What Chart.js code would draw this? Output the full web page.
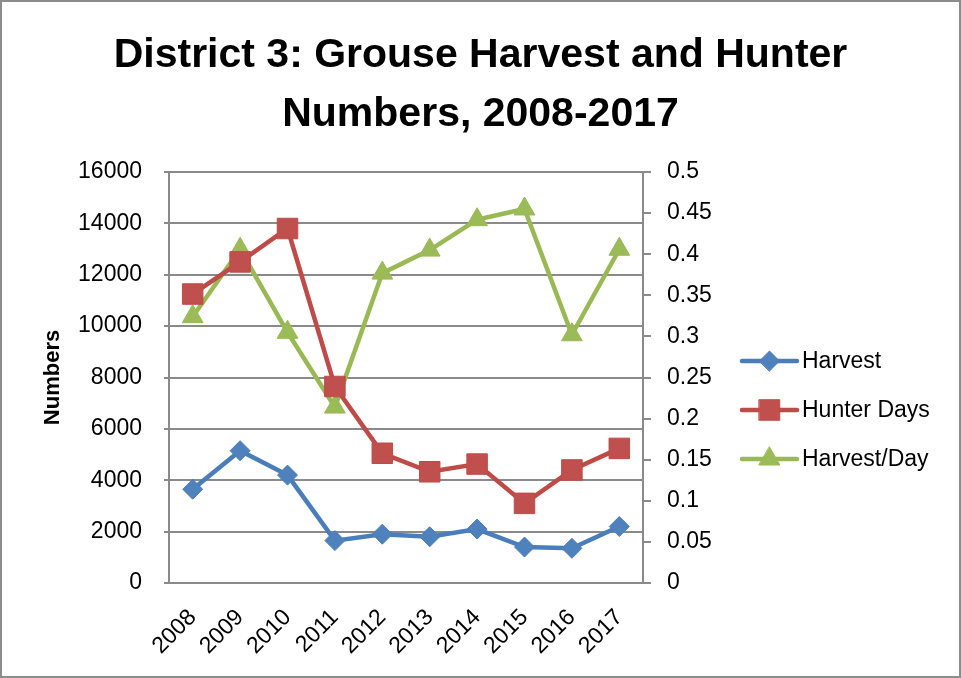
<!DOCTYPE html>
<html>
<head>
<meta charset="utf-8">
<title>District 3: Grouse Harvest and Hunter Numbers, 2008-2017</title>
<script src="https://cdn.jsdelivr.net/npm/chart.js"></script>
<style>
  html, body { margin: 0; padding: 0; background: #fff; }
  #wrap { width: 961px; height: 678px; box-sizing: border-box; border: 2px solid #8c8c8c; }
  canvas { display: block; }
</style>
</head>
<body>
<div id="wrap"><canvas id="chart" width="957" height="674"></canvas></div>
<script>
// data
const years = ['2008', '2009', '2010', '2011', '2012', '2013', '2014', '2015', '2016', '2017']
const harvest = [3650, 5150, 4200, 1650, 1900, 1800, 2100, 1400, 1350, 2200]
const hunterDays = [11250, 12500, 13800, 7650, 5050, 4330, 4630, 3100, 4400, 5240]
const harvestPerDay = [0.324, 0.406, 0.305, 0.214, 0.377, 0.405, 0.442, 0.455, 0.302, 0.406]

const numberTicks = [0, 2000, 4000, 6000, 8000, 10000, 12000, 14000, 16000]
const ratioTicks = [0, 0.05, 0.1, 0.15, 0.2, 0.25, 0.3, 0.35, 0.4, 0.45, 0.5]

const FONT = "'Liberation Sans', Arial, sans-serif"
const GRID = '#8a8a8a'

// legend drawn by hand: line with marker, next to the plot
const legendPlugin = {
  id: 'sideLegend',
  afterDraw (chart) {
    const ctx = chart.ctx
    const x0 = 740
    const x1 = 795
    const rows = [359, 408, 457]
    chart.data.datasets.forEach((ds, i) => {
      const y = rows[i]
      ctx.save()
      ctx.strokeStyle = ds.borderColor
      ctx.lineWidth = ds.borderWidth
      ctx.lineCap = 'round'
      ctx.beginPath()
      ctx.moveTo(x0, y)
      ctx.lineTo(x1, y)
      ctx.stroke()
      ctx.fillStyle = ds.pointBackgroundColor
      ctx.strokeStyle = ds.pointBorderColor
      ctx.lineWidth = 1
      Chart.helpers.drawPoint(ctx, { pointStyle: ds.pointStyle, radius: ds.pointRadius, rotation: 0, borderWidth: 1 }, (x0 + x1) / 2, y)
      ctx.fillStyle = '#000'
      ctx.font = '23px ' + FONT
      ctx.textBaseline = 'middle'
      ctx.textAlign = 'left'
      ctx.fillText(ds.label, x1 + 5, y + 1)
      ctx.restore()
    })
  }
}

const ctx = document.getElementById('chart').getContext('2d')
const chart = new Chart(ctx, {
  type: 'line',
  data: {
    labels: years,
    datasets: [
      {
        label: 'Harvest',
        data: harvest,
        yAxisID: 'y',
        borderColor: '#4A7EBB',
        borderWidth: 4.5,
        pointStyle: 'rectRot',
        pointRadius: 10,
        pointBackgroundColor: '#4F81BD',
        pointBorderColor: '#4A7EBB',
        pointBorderWidth: 1
      },
      {
        label: 'Hunter Days',
        data: hunterDays,
        yAxisID: 'y',
        borderColor: '#BE4B48',
        borderWidth: 4.5,
        pointStyle: 'rect',
        pointRadius: 14.5,
        pointBackgroundColor: '#C0504D',
        pointBorderColor: '#BE4B48',
        pointBorderWidth: 1
      },
      {
        label: 'Harvest/Day',
        data: harvestPerDay,
        yAxisID: 'y1',
        borderColor: '#98B954',
        borderWidth: 4.5,
        pointStyle: 'triangle',
        pointRadius: 12,
        pointBackgroundColor: '#9BBB59',
        pointBorderColor: '#98B954',
        pointBorderWidth: 1
      }
    ]
  },
  options: {
    responsive: false,
    animation: false,
    layout: { padding: 0 },
    plugins: {
      legend: { display: false },
      tooltip: { enabled: false },
      title: {
        display: true,
        text: ['District 3: Grouse Harvest and Hunter', 'Numbers, 2008-2017'],
        color: '#000',
        font: { family: FONT, size: 41, weight: 'bold', lineHeight: 59 / 41 },
        padding: { top: 24, bottom: 28 }
      }
    },
    scales: {
      x: {
        offset: true,
        grid: { display: false, drawTicks: false },
        border: { display: true, color: GRID, width: 2 },
        ticks: {
          color: '#000',
          font: { family: FONT, size: 23 },
          minRotation: 45,
          maxRotation: 45,
          autoSkip: false,
          padding: 21
        },
        afterFit (scale) { scale.height = 93 }
      },
      y: {
        position: 'left',
        min: 0,
        max: 16000,
        afterBuildTicks (scale) { scale.ticks = numberTicks.map(v => ({ value: v })) },
        grid: { color: GRID, lineWidth: 2, tickLength: 5 },
        border: { color: GRID, width: 2 },
        ticks: {
          color: '#000',
          font: { family: FONT, size: 23 },
          padding: 22,
          callback: v => String(v)
        },
        title: {
          display: true,
          text: 'Numbers',
          color: '#000',
          font: { family: FONT, size: 22, weight: 'bold' },
          padding: { top: 38, bottom: 0 }
        },
        afterFit (scale) { scale.width = 167 }
      },
      y1: {
        position: 'right',
        min: 0,
        max: 0.5,
        afterBuildTicks (scale) { scale.ticks = ratioTicks.map(v => ({ value: v })) },
        grid: { drawOnChartArea: false, color: GRID, lineWidth: 2, tickLength: 8 },
        border: { color: GRID, width: 2 },
        ticks: {
          color: '#000',
          font: { family: FONT, size: 23 },
          padding: 16,
          callback: v => String(v)
        },
        afterFit (scale) { scale.width = 316 }
      }
    }
  },
  plugins: [legendPlugin]
})
</script>
</body>
</html>
